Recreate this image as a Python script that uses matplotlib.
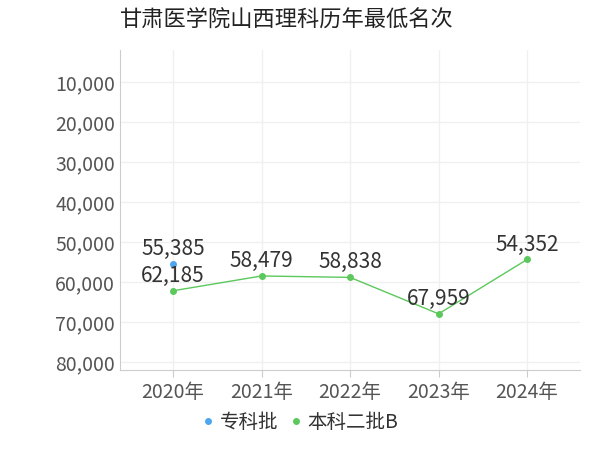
import matplotlib
matplotlib.use("Agg")
import matplotlib.pyplot as plt
from matplotlib.ticker import FuncFormatter
from matplotlib.lines import Line2D

plt.rcParams['font.family'] = ['Noto Sans CJK SC', 'DejaVu Sans']

years = ["2020年", "2021年", "2022年", "2023年", "2024年"]
zk_x = [0]
zk_vals = [55385]
bk_vals = [62185, 58479, 58838, 67959, 54352]

fig = plt.figure(figsize=(6, 4.5), dpi=100)
ax = fig.add_axes([0.2, 0.178, 0.767, 0.71])
x = list(range(len(years)))
ax.plot(zk_x, zk_vals, color="#4da6f0", marker="o", markersize=4, lw=1)
ax.plot(x, bk_vals, color="#5cc85c", marker="o", markersize=4, lw=1)
for xi, v in zip(zk_x, zk_vals):
    ax.text(xi, v - 1000, f"{v:,}", ha="center", va="bottom", fontsize=15, color="#333333")
for xi, v in zip(x, bk_vals):
    ax.text(xi, v - 1000, f"{v:,}", ha="center", va="bottom", fontsize=15, color="#333333")

ax.set_ylim(82000, 2000)
ax.set_yticks(range(10000, 80001, 10000))
ax.yaxis.set_major_formatter(FuncFormatter(lambda v, p: f"{int(v):,}"))
ax.set_xlim(-0.6, 4.6)
ax.set_xticks(x)
ax.set_xticklabels(years)
ax.tick_params(axis='both', labelsize=14, colors="#555555", length=0)
ax.tick_params(axis='x', length=5, color="#cccccc")
ax.grid(True, color="#f0f0f0", lw=1)
for s in ["top", "right"]:
    ax.spines[s].set_visible(False)
ax.spines["left"].set_color("#cccccc")
ax.spines["bottom"].set_color("#cccccc")
fig.text(0.2, 0.955, "甘肃医学院山西理科历年最低名次", fontsize=16, color="#222222", va="center")
handles = [Line2D([], [], color="#4da6f0", marker="o", markersize=4, lw=0),
           Line2D([], [], color="#5cc85c", marker="o", markersize=4, lw=0)]
fig.legend(handles, ["专科批", "本科二批B"], loc="lower center", bbox_to_anchor=(0.5, 0.0), ncol=2,
           frameon=False, fontsize=14, handlelength=0.6, handletextpad=0.3, columnspacing=0.6,
           labelcolor="#333333")
fig.savefig("out.png")
